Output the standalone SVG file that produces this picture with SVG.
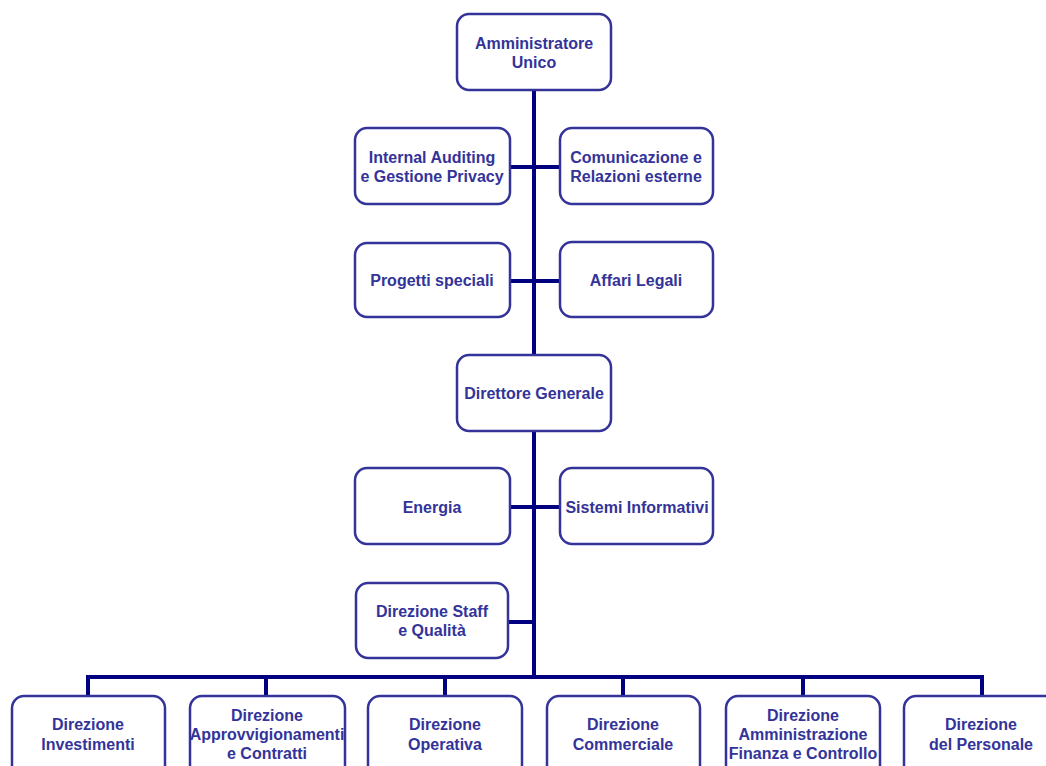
<svg xmlns="http://www.w3.org/2000/svg" width="1046" height="766" viewBox="0 0 1046 766">
<style>
.box{fill:#fff;stroke:#333399;stroke-width:2.5}
.t{font-family:"Liberation Sans",Arial,sans-serif;font-weight:bold;font-size:16px;fill:#333399;text-anchor:middle}
.c{stroke:#000080;stroke-width:4;fill:none}
</style>
<rect width="1046" height="766" fill="#fff"/>
<g id="connectors">
<line class="c" x1="534" y1="90" x2="534" y2="679"/>
<line class="c" x1="510" y1="167" x2="560" y2="167"/>
<line class="c" x1="510" y1="281" x2="560" y2="281"/>
<line class="c" x1="510" y1="507" x2="560" y2="507"/>
<line class="c" x1="508" y1="622" x2="534" y2="622"/>
<polyline class="c" points="88,696 88,677 982,677 982,696"/>
<line class="c" x1="266" y1="677" x2="266" y2="696"/>
<line class="c" x1="445" y1="677" x2="445" y2="696"/>
<line class="c" x1="623" y1="677" x2="623" y2="696"/>
<line class="c" x1="803" y1="677" x2="803" y2="696"/>
</g>
<g id="amministratore"><rect class="box" x="457" y="14" width="154" height="76" rx="12"/><text class="t" x="534" y="49">Amministratore</text><text class="t" x="534" y="68">Unico</text></g>
<g id="internal-auditing"><rect class="box" x="355" y="128" width="155" height="76" rx="12"/><text class="t" x="432" y="163">Internal Auditing</text><text class="t" x="432" y="182">e Gestione Privacy</text></g>
<g id="comunicazione"><rect class="box" x="560" y="128" width="153" height="76" rx="12"/><text class="t" x="636" y="163">Comunicazione e</text><text class="t" x="636" y="182">Relazioni esterne</text></g>
<g id="progetti"><rect class="box" x="355" y="243" width="155" height="74" rx="12"/><text class="t" x="432" y="286">Progetti speciali</text></g>
<g id="affari-legali"><rect class="box" x="560" y="242" width="153" height="75" rx="12"/><text class="t" x="636" y="286">Affari Legali</text></g>
<g id="direttore"><rect class="box" x="457" y="355" width="154" height="76" rx="12"/><text class="t" x="534" y="399">Direttore Generale</text></g>
<g id="energia"><rect class="box" x="355" y="468" width="155" height="76" rx="12"/><text class="t" x="432" y="513">Energia</text></g>
<g id="sistemi"><rect class="box" x="560" y="468" width="153" height="76" rx="12"/><text class="t" x="637" y="513">Sistemi Informativi</text></g>
<g id="staff"><rect class="box" x="356" y="583" width="152" height="75" rx="12"/><text class="t" x="432" y="617">Direzione Staff</text><text class="t" x="432" y="636">e Qualità</text></g>
<g id="investimenti"><rect class="box" x="12" y="696" width="153" height="90" rx="12"/><text class="t" x="88" y="730">Direzione</text><text class="t" x="88" y="750">Investimenti</text></g>
<g id="approvvigionamenti"><rect class="box" x="190" y="696" width="155" height="90" rx="12"/><text class="t" x="267" y="721">Direzione</text><text class="t" x="267" y="740">Approvvigionamenti</text><text class="t" x="267" y="759">e Contratti</text></g>
<g id="operativa"><rect class="box" x="368" y="696" width="154" height="90" rx="12"/><text class="t" x="445" y="730">Direzione</text><text class="t" x="445" y="750">Operativa</text></g>
<g id="commerciale"><rect class="box" x="547" y="696" width="153" height="90" rx="12"/><text class="t" x="623" y="730">Direzione</text><text class="t" x="623" y="750">Commerciale</text></g>
<g id="amministrazione"><rect class="box" x="726" y="696" width="154" height="90" rx="12"/><text class="t" x="803" y="721">Direzione</text><text class="t" x="803" y="740">Amministrazione</text><text class="t" x="803" y="759">Finanza e Controllo</text></g>
<g id="personale"><rect class="box" x="904" y="696" width="154" height="90" rx="12"/><text class="t" x="981" y="730">Direzione</text><text class="t" x="981" y="750">del Personale</text></g>
</svg>
